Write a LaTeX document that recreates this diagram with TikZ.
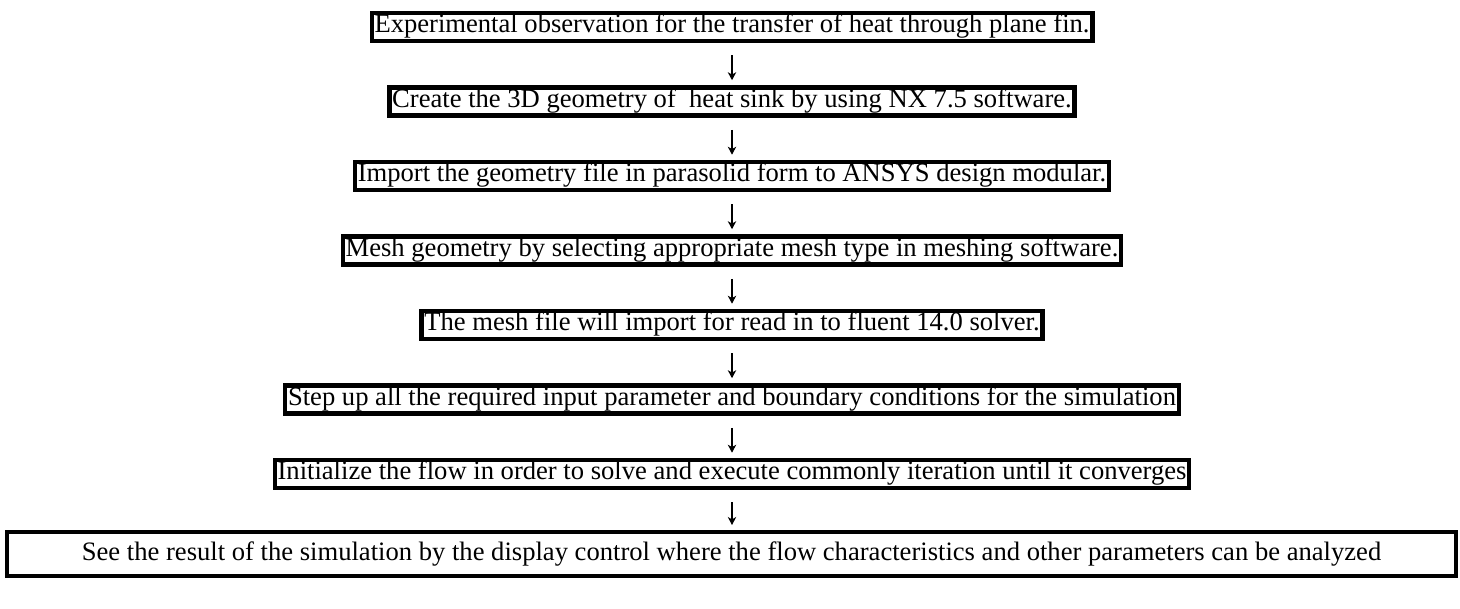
\documentclass[tikz,border=0pt]{standalone}
\usepackage{fontspec}
\setmainfont{Liberation Serif}
\usetikzlibrary{arrows.meta}
\begin{document}
\begin{tikzpicture}[x=0.5pt,y=-0.5pt,
  every node/.style={font=\fontsize{13.3}{15}\selectfont},
  stepbox/.style={draw, line width=2.2pt, inner xsep=1.4pt, inner ysep=1.7pt, text height=0.82em, text depth=0.25em},
  lastbox/.style={draw, line width=2.2pt, minimum width=724.3pt, minimum height=21.8pt, inner sep=0pt, text height=0.89em, text depth=0.22em},
  flow/.style={line width=0.55pt, -{Stealth[length=4pt,width=4.2pt,inset=1.2pt]}, shorten <=6pt, shorten >=2.5pt}]
\useasboundingbox (0,0) rectangle (1460,609);
\node[stepbox] (b1) at (732,27) {Experimental observation for the transfer of heat through plane fin.};
\node[stepbox] (b2) at (732,101.5) {Create the 3D geometry of\ \ heat sink by using NX 7.5 software.};
\node[stepbox] (b3) at (732,176) {Import the geometry file in parasolid form to ANSYS design modular.};
\node[stepbox] (b4) at (732,250.5) {Mesh geometry by selecting appropriate mesh type in meshing software.};
\node[stepbox] (b5) at (732,325) {The mesh file will import for read in to fluent 14.0 solver.};
\node[stepbox] (b6) at (732,399.5) {Step up all the required input parameter and boundary conditions for the simulation};
\node[stepbox] (b7) at (732,474) {Initialize the flow in order to solve and execute commonly iteration until it converges};
\node[lastbox] (b8) at (731.5,554) {See the result of the simulation by the display control where the flow characteristics and other parameters can be analyzed};
\draw[flow] (b1) -- (b2);
\draw[flow] (b2) -- (b3);
\draw[flow] (b3) -- (b4);
\draw[flow] (b4) -- (b5);
\draw[flow] (b5) -- (b6);
\draw[flow] (b6) -- (b7);
\draw[flow] (b7.south) -- (b7.south |- b8.north);
\end{tikzpicture}
\end{document}
